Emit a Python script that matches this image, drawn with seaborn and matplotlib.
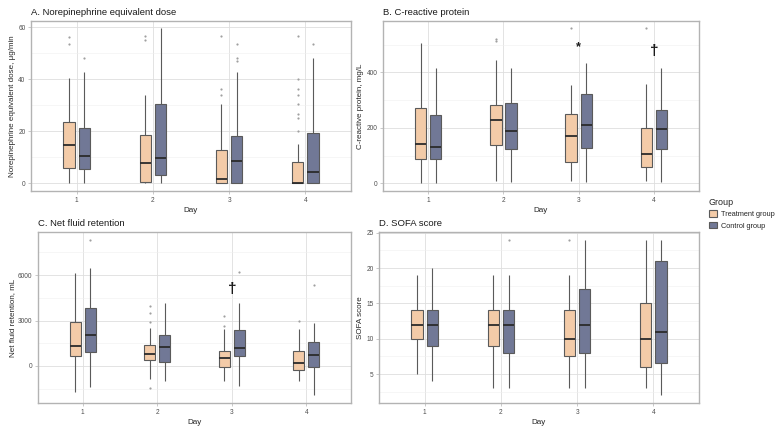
import numpy as np
import pandas as pd
import matplotlib.pyplot as plt
import seaborn as sns

days = ["1", "2", "3", "4"]
groups = ["Treatment group", "Control group"]
colors = ["#FFCA9C", "#6B749C"]

# five-number summaries per day: [lower whisker, Q1, median, Q3, upper whisker]
# A. Norepinephrine equivalent dose
ne_treat = [[0, 5.7, 14.7, 23.7, 40.6], [0, 0.4, 7.6, 18.5, 34.1],
            [0, 0, 1.8, 12.7, 30.3], [0, 0, 0.1, 8.0, 15.0]]
ne_ctrl = [[0, 5.3, 10.5, 21.1, 42.9], [0, 3.0, 9.6, 30.3, 59.5],
           [0, 0, 8.4, 18.2, 42.9], [0, 0, 4.5, 19.4, 48.1]]
ne_treat_out = [[56.1, 53.7], [56.6, 55.2], [56.6, 36.2, 34.0],
                [56.6, 40.2, 36.2, 34.0, 30.3, 26.6, 25.0, 20.2]]
ne_ctrl_out = [[48.2], [], [53.5, 48.2, 46.8], [53.5]]

# B. C-reactive protein
crp_treat = [[0, 89, 140, 270, 504], [8, 137, 227, 282, 443],
             [8, 77, 172, 249, 355], [8, 57, 104, 199, 358]]
crp_ctrl = [[0, 87, 130, 246, 417], [6, 122, 189, 288, 417],
            [5, 126, 211, 321, 432], [5, 122, 197, 263, 414]]
crp_treat_out = [[], [520, 513], [558], [558]]
crp_ctrl_out = [[], [], [], []]

# C. Net fluid retention
nfr_treat = [[-1743, 662, 1346, 2890, 6155], [-882, 375, 772, 1368, 2515],
             [-1015, -88, 529, 993, 2449], [-1015, -265, 176, 993, 2449]]
nfr_ctrl = [[-1368, 949, 2030, 3860, 6464], [-970, 287, 1280, 2030, 4169],
            [-1302, 640, 1169, 2382, 4147], [-1941, -44, 750, 1566, 2824]]
nfr_treat_out = [[], [3934, 3517, 2879, -1434], [3331, 2625], [2978]]
nfr_ctrl_out = [[8339], [], [6199], [5361]]

# D. SOFA score
sofa_treat = [[5, 10, 12, 14, 19], [3, 9, 12, 14, 19],
              [3, 7.5, 10, 14, 19], [3, 6, 10, 15, 24]]
sofa_ctrl = [[4, 9, 12, 14, 20], [3, 8, 12, 14, 19],
             [3, 8, 12, 17, 24], [2, 6.5, 11, 21, 24]]
sofa_treat_out = [[], [], [24], []]
sofa_ctrl_out = [[], [24], [], []]

# significance marks: (panel, day, value, symbol)
marks = [("B", "3", 490, "*"), ("B", "4", 478, "\u2020"), ("C", "3", 5100, "\u2020")]

sns.set_theme(style="whitegrid")
plt.rcParams["font.family"] = ["Liberation Sans", "DejaVu Sans"]

GRID = "#DEDEDE"
BORDER = "#B3B3B3"

fig = plt.figure(figsize=(7.77, 4.29), dpi=100)
W, H = 777, 429


def px_axes(left, top, right, bottom):
    return fig.add_axes([left / W, 1 - bottom / H, (right - left) / W, (bottom - top) / H])


def draw_panel(ax, key, treat, ctrl, treat_out, ctrl_out, title, ylabel, yticks, minor):
    rows = []
    for d, day in enumerate(days):
        for g, summ in ((groups[0], treat[d]), (groups[1], ctrl[d])):
            for v in summ:
                rows.append({"Day": day, "Group": g, "value": v})
    df = pd.DataFrame(rows)
    sns.boxplot(data=df, x="Day", y="value", hue="Group", order=days, hue_order=groups,
                palette=colors, width=0.4, gap=0.25, whis=np.inf, linecolor="#5a5a5a",
                linewidth=0.8, showcaps=False, showfliers=False,
                medianprops=dict(color="#2b2b2b", linewidth=1.3), ax=ax)
    offsets = [-0.1, 0.1]
    for gi, outs in enumerate((treat_out, ctrl_out)):
        for d, vals in enumerate(outs):
            if vals:
                ax.scatter([d + offsets[gi]] * len(vals), vals, s=2.5, color="#A0A0A0",
                           linewidths=0, zorder=3)
    for p, day, val, sym in marks:
        if p == key:
            fs = 9 if sym == "*" else 11
            ax.text(days.index(day), val, sym, ha="center", va="center",
                    fontsize=fs, fontweight="bold", color="#1a1a1a")

    allv = np.concatenate([np.ravel(treat), np.ravel(ctrl)] +
                          [np.array(v, float) for v in treat_out + ctrl_out if v])
    lo, hi = allv.min(), allv.max()
    pad = (hi - lo) * 0.05
    ax.set_ylim(lo - pad, hi + pad)
    ax.set_xlim(-0.6, 3.6)
    ax.set_yticks(yticks)
    ax.set_yticks(minor, minor=True)
    ax.grid(True, which="major", color=GRID, linewidth=0.6)
    ax.grid(True, which="minor", axis="y", color="#EFEFEF", linewidth=0.4)
    ax.set_axisbelow(True)
    for s in ax.spines.values():
        s.set_color(BORDER)
        s.set_linewidth(1.0)
    ax.tick_params(axis="both", which="major", length=2.5, width=0.5, color=BORDER,
                   labelsize=4.7, labelcolor="#4D4D4D", pad=1.5, left=True, bottom=True)
    ax.tick_params(axis="y", which="minor", length=0)
    ax.set_title(title, loc="left", fontsize=6.8, pad=4, color="#1a1a1a")
    ax.set_ylabel(ylabel, fontsize=5.8, labelpad=1.5)
    ax.set_xlabel("Day", fontsize=5.8, labelpad=2.5)
    handles, labels = ax.get_legend_handles_labels()
    if ax.get_legend() is not None:
        ax.get_legend().remove()
    return handles, labels


axA = px_axes(31, 20.7, 351, 191)
axB = px_axes(383, 20.7, 699, 191)
axC = px_axes(38, 232, 351, 403)
axD = px_axes(379, 232, 699, 403)

handles, labels = draw_panel(axA, "A", ne_treat, ne_ctrl, ne_treat_out, ne_ctrl_out,
                             "A. Norepinephrine equivalent dose",
                             "Norepinephrine equivalent dose, \u03bcg/min",
                             [0, 20, 40, 60], [10, 30, 50])
draw_panel(axB, "B", crp_treat, crp_ctrl, crp_treat_out, crp_ctrl_out,
           "B. C-reactive protein", "C-reactive protein, mg/L",
           [0, 200, 400], [100, 300, 500])
draw_panel(axC, "C", nfr_treat, nfr_ctrl, nfr_treat_out, nfr_ctrl_out,
           "C. Net fluid retention", "Net fluid retention, mL",
           [0, 3000, 6000], [-1500, 1500, 4500, 7500])
draw_panel(axD, "D", sofa_treat, sofa_ctrl, sofa_treat_out, sofa_ctrl_out,
           "D. SOFA score", "SOFA score",
           [5, 10, 15, 20, 25], [2.5, 7.5, 12.5, 17.5, 22.5])

leg = fig.legend(handles, labels, title="Group", loc="upper left",
                 bbox_to_anchor=(702 / W, 1 - 191 / H), frameon=False,
                 fontsize=5.3, title_fontsize=6.5, handlelength=1.1, handleheight=1.0,
                 labelspacing=0.5, handletextpad=0.6)
leg._legend_box.align = "left"

fig.savefig("out.png", dpi=100)
